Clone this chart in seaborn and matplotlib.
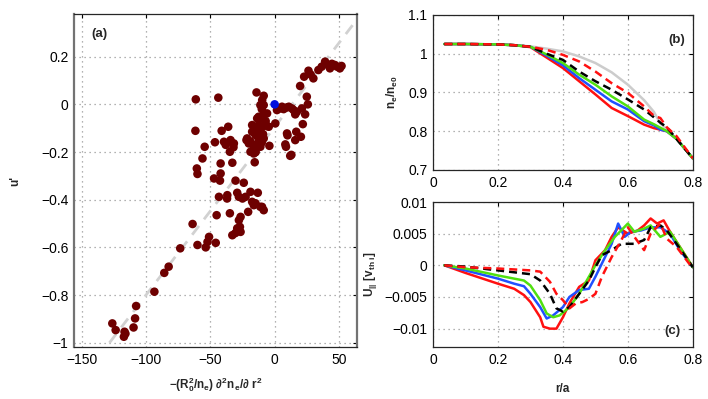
import numpy as np
import pandas as pd
import matplotlib
matplotlib.use("Agg")
import matplotlib.pyplot as plt
from matplotlib.ticker import FuncFormatter
import seaborn as sns

# ---- panel (a): scatter of u' against -(R0^2/ne) d2ne/dr2 ----
scat_x = [39.2, 43, 46.9, 50.7, 52, 34, 30.1, 26.3, 22.9, 19.8, 36.6, 41.7, 48.5, 44.5, 28,
          1.8, 4.4, 5.7, 9.5, 13.4, 14.7, 16, 17.3, 21.2, 23.7, 25.8, 25, 21.9, 7, 11,
          9.6, 10, 16.8, 20.4, 16, 8.3, 8.8, 12.1, 13, -4.1, 0.5,
          -14.1, -8.5, -9.7, -11.1, -8.5, -10, -12.4, -8.5, -5.9, -11, -13.6, -7, -5.9, -9.8,
          -12.4, -13.7, -17.5, -4.6, -11, -17.5, -14.9, -9, -8.5, -12.4, -21.4, -21.9, -20.1,
          -16.2, -16.2, -11.1, -14.9, -14.9, -18.8, -15.5, -16.2, -19, -10,
          -61.3, -43.8, -61.6, -41.2, -36.1, -54.4, -46.4, -39.4, -34.3, -31.7, -34.8, -32, -38,
          -56.1, -60.5, -60, -42, -32.9, -42, -47.1, -42.5, -30.4, -24,
          -43.3, -36.8, -37, -29.1, -27.8, -22.6, -18.8, -13.1, -25, -17.5, -14.9, -16.2, -11.1,
          -9.8, -8.5, -20.6, -34.8, -45.1, -63.8, -26.5, -27.8, -27, -29.1, -26.5, -28.5, -30.5,
          -32.9, -51, -52.2, -53.6, -45.8, -60, -73.4,
          -85.8, -82.4, -93.5, -107.7, -108.5, -109.7, -126.2, -123.6, -116.7, -117.2, -116]
scat_y = [0.179, 0.151, 0.165, 0.151, 0.161, 0.144, 0.109, 0.141, 0.116, 0.077, 0.158, 0.165, 0.158, 0.170, 0.125,
          -0.024, -0.017, -0.01, -0.013, -0.017, -0.024, -0.042, -0.031, -0.017, -0.042, 0.0, 0.032, -0.083, -0.02, -0.01,
          -0.122, -0.13, -0.115, -0.136, -0.15, -0.168, -0.178, -0.216, -0.212, -0.174, -0.08,
          0.05, 0.036, 0.018, -0.003, -0.003, -0.02, -0.052, -0.045, -0.038, -0.06, -0.059, -0.07, -0.091, -0.094,
          -0.087, -0.101, -0.087, -0.094, -0.115, -0.115, -0.129, -0.125, -0.143, -0.15, -0.143, -0.15, -0.164,
          -0.171, -0.178, -0.178, -0.199, -0.201, -0.199, -0.243, -0.206, -0.155, -0.16,
          0.021, 0.028, -0.111, -0.111, -0.094, -0.178, -0.159, -0.157, -0.15, -0.164, -0.199, -0.18, -0.17,
          -0.227, -0.269, -0.292, -0.248, -0.245, -0.29, -0.311, -0.32, -0.32, -0.329,
          -0.388, -0.381, -0.395, -0.371, -0.388, -0.388, -0.367, -0.371, -0.395, -0.409, -0.415, -0.423, -0.43,
          -0.43, -0.444, -0.451, -0.457, -0.465, -0.502, -0.472, -0.486, -0.514, -0.52, -0.535, -0.53, -0.54,
          -0.549, -0.556, -0.577, -0.6, -0.581, -0.59, -0.604,
          -0.707, -0.681, -0.786, -0.846, -0.898, -0.936, -0.919, -0.947, -0.954, -0.975, -0.962]
ref_point = (0.0, 0.0)
fit_slope, fit_intercept = 0.00705, -0.095

# ---- panel (b): density profiles n_e/n_e0 vs r/a ----
r_b = [0.035, 0.1, 0.2, 0.25, 0.3, 0.35, 0.4, 0.45, 0.5, 0.55, 0.6, 0.65, 0.68, 0.7, 0.72, 0.75, 0.8]
ne_gray = [1.025, 1.025, 1.024, 1.022, 1.019, 1.013, 1.006, 0.993, 0.976, 0.952, 0.92, 0.88, 0.85, 0.82, 0.805, 0.78, 0.73]
ne_red_dash = [1.025, 1.025, 1.024, 1.022, 1.018, 1.01, 0.997, 0.98, 0.954, 0.924, 0.899, 0.864, 0.84, 0.834, 0.81, 0.787, 0.73]
ne_black_dash = [1.025, 1.025, 1.024, 1.022, 1.018, 1.0, 0.984, 0.954, 0.929, 0.907, 0.882, 0.856, 0.836, 0.822, 0.81, 0.78, 0.73]
ne_green = [1.025, 1.025, 1.024, 1.022, 1.018, 0.998, 0.976, 0.946, 0.92, 0.89, 0.864, 0.83, 0.818, 0.809, 0.80, 0.78, 0.73]
ne_blue = [1.025, 1.025, 1.024, 1.022, 1.018, 0.995, 0.97, 0.937, 0.907, 0.877, 0.856, 0.826, 0.815, 0.804, 0.80, 0.78, 0.73]
ne_red = [1.025, 1.025, 1.024, 1.022, 1.017, 0.99, 0.963, 0.929, 0.895, 0.86, 0.839, 0.817, 0.808, 0.804, 0.80, 0.78, 0.73]

# ---- panel (c): parallel flow U_|| vs r/a ----
r_c_red_dash = [0.035, 0.1, 0.2, 0.3, 0.33, 0.36, 0.38, 0.4, 0.42, 0.44, 0.46, 0.48, 0.5, 0.52, 0.55, 0.58, 0.6, 0.62, 0.65, 0.67, 0.7, 0.72, 0.75, 0.8]
u_red_dash = [0, -0.0003, -0.0005, -0.0008, -0.001, -0.0026, -0.0045, -0.0055, -0.0068, -0.006, -0.0058, -0.0053, -0.0045, -0.0018, 0.0013, 0.004, 0.006, 0.0045, 0.0024, 0.005, 0.0066, 0.0042, 0.0029, -0.0005]
r_c_black_dash = [0.035, 0.1, 0.2, 0.3, 0.33, 0.36, 0.38, 0.4, 0.42, 0.45, 0.48, 0.5, 0.52, 0.55, 0.58, 0.62, 0.65, 0.67, 0.7, 0.72, 0.75, 0.8]
u_black_dash = [0, -0.0002, -0.0008, -0.0014, -0.0024, -0.0045, -0.0068, -0.0073, -0.0066, -0.0045, -0.0024, -0.0003, 0.0016, 0.0024, 0.0034, 0.0034, 0.004, 0.006, 0.0063, 0.0055, 0.0034, -0.0003]
r_c_green = [0.035, 0.1, 0.2, 0.25, 0.28, 0.3, 0.33, 0.35, 0.37, 0.39, 0.42, 0.45, 0.48, 0.5, 0.53, 0.56, 0.6, 0.62, 0.65, 0.67, 0.7, 0.73, 0.76, 0.8]
u_green = [0, -0.0005, -0.0016, -0.0021, -0.0024, -0.0032, -0.0055, -0.0076, -0.0082, -0.0079, -0.0066, -0.0045, -0.0018, 0.0, 0.0024, 0.0045, 0.0066, 0.0053, 0.0058, 0.0063, 0.0045, 0.0053, 0.0029, -0.0003]
r_c_blue = [0.035, 0.1, 0.2, 0.25, 0.28, 0.3, 0.33, 0.35, 0.37, 0.4, 0.42, 0.45, 0.48, 0.5, 0.52, 0.55, 0.57, 0.59, 0.61, 0.64, 0.67, 0.7, 0.73, 0.76, 0.8]
u_blue = [0, -0.0008, -0.0021, -0.0029, -0.0033, -0.0045, -0.0066, -0.0084, -0.0079, -0.0066, -0.005, -0.0039, -0.0037, -0.0018, 0.0003, 0.0034, 0.0066, 0.0045, 0.0053, 0.0055, 0.006, 0.006, 0.005, 0.0024, -0.0003]
r_c_red = [0.035, 0.1, 0.2, 0.25, 0.28, 0.3, 0.33, 0.34, 0.36, 0.38, 0.4, 0.42, 0.45, 0.48, 0.5, 0.53, 0.55, 0.57, 0.6, 0.63, 0.65, 0.67, 0.69, 0.71, 0.73, 0.76, 0.8]
u_red = [0, -0.0012, -0.0029, -0.0037, -0.0047, -0.0058, -0.0082, -0.0097, -0.01, -0.01, -0.0082, -0.006, -0.0034, -0.0024, 0.0008, 0.0024, 0.0045, 0.006, 0.005, 0.0055, 0.0063, 0.0074, 0.0066, 0.0071, 0.0053, 0.0029, -0.0003]

DASH = (0, (3.2, 2.0))


def matlab_fmt(v, pos):
    s = f"{v:g}"
    return s.replace("-", "\u2212")


def style_axes(ax):
    ax.grid(True, ls=(0, (1, 3)), lw=0.9, color="0.6")
    ax.tick_params(direction="in", length=3, labelsize=10, colors="black",
                   top=True, right=True, pad=4)
    ax.xaxis.set_major_formatter(FuncFormatter(matlab_fmt))
    ax.yaxis.set_major_formatter(FuncFormatter(matlab_fmt))
    for sp in ax.spines.values():
        sp.set_color("0.15")
        sp.set_linewidth(0.9)


sns.set_style("white")
plt.rcParams['font.family'] = ['Liberation Sans', 'DejaVu Sans']
plt.rcParams['mathtext.fontset'] = 'custom'
plt.rcParams['mathtext.rm'] = 'Liberation Sans'
plt.rcParams['mathtext.bf'] = 'Liberation Sans:bold'
plt.rcParams['mathtext.it'] = 'Liberation Sans:italic'

fig = plt.figure(figsize=(7.08, 3.99), dpi=100)
ax_a = fig.add_axes([0.1045, 0.1303, 0.3997, 0.8346])
ax_b = fig.add_axes([0.6116, 0.574, 0.367, 0.3885])
ax_c = fig.add_axes([0.6116, 0.1303, 0.367, 0.3634])

# (a)
xlim_a = (-156, 64)
fit_x = np.array(xlim_a, dtype=float)
ax_a.plot(fit_x, fit_slope * fit_x + fit_intercept, ls=(0, (4, 3)), lw=2, color="0.82", zorder=1)
df_a = pd.DataFrame({"x": scat_x, "y": scat_y})
sns.scatterplot(data=df_a, x="x", y="y", ax=ax_a, color="#6e0000", s=38,
                edgecolor="none", zorder=3)
sns.scatterplot(x=[ref_point[0]], y=[ref_point[1]], ax=ax_a, color="#0010e0", s=38,
                edgecolor="none", zorder=4)
ax_a.set_xlim(*xlim_a)
ax_a.set_ylim(-1.018, 0.379)
ax_a.set_xticks([-150, -100, -50, 0, 50])
ax_a.set_yticks([-1, -0.8, -0.6, -0.4, -0.2, 0, 0.2])
style_axes(ax_a)
ax_a.spines["left"].set_color("0.45")
ax_a.spines["left"].set_linewidth(1.6)
ax_a.spines["right"].set_color("0.45")
ax_a.spines["right"].set_linewidth(1.6)
ax_a.set_xlabel(r"$\mathbf{-(R_0^2/n_e)\ \partial^2 n_e/\partial\ r^2}$", fontsize=8.5, labelpad=6)
ax_a.set_ylabel("u'", fontsize=8.5, fontweight="bold", labelpad=14)
ax_a.text(0.06, 0.93, "(a)", transform=ax_a.transAxes, fontsize=9.5, fontweight="bold")

# (b)
b_series = [
    (ne_gray, "0.8", "-"),
    (ne_red, "#ff1010", "-"),
    (ne_blue, "#2050ff", "-"),
    (ne_green, "#50e010", "-"),
    (ne_black_dash, "black", "--"),
    (ne_red_dash, "#ff1010", "--"),
]
for vals, col, ls in b_series:
    sns.lineplot(x=r_b, y=vals, ax=ax_b, color=col, lw=1.8, sort=False, estimator=None)
    ax_b.lines[-1].set_linestyle("-" if ls == "-" else DASH)
ax_b.set_xlim(0, 0.8)
ax_b.set_ylim(0.7, 1.1)
ax_b.set_xticks([0, 0.2, 0.4, 0.6, 0.8])
ax_b.set_yticks([0.7, 0.8, 0.9, 1.0, 1.1])
style_axes(ax_b)
ax_b.set_xlabel("")
ax_b.set_ylabel(r"$\mathbf{n_e/n_{e0}}$", fontsize=8.5, labelpad=6)
ax_b.text(0.905, 0.82, "(b)", transform=ax_b.transAxes, fontsize=9.5, fontweight="bold")

# (c)
c_series = [
    (r_c_red, u_red, "#ff1010", "-"),
    (r_c_blue, u_blue, "#2050ff", "-"),
    (r_c_green, u_green, "#50e010", "-"),
    (r_c_black_dash, u_black_dash, "black", "--"),
    (r_c_red_dash, u_red_dash, "#ff1010", "--"),
]
for xs, ys, col, ls in c_series:
    sns.lineplot(x=xs, y=ys, ax=ax_c, color=col, lw=1.8, sort=False, estimator=None)
    ax_c.lines[-1].set_linestyle("-" if ls == "-" else DASH)
ax_c.set_xlim(0, 0.8)
ax_c.set_ylim(-0.0129, 0.01)
ax_c.set_xticks([0, 0.2, 0.4, 0.6, 0.8])
ax_c.set_yticks([-0.01, -0.005, 0, 0.005, 0.01])
style_axes(ax_c)
ax_c.set_xlabel("r/a", fontsize=8.5, fontweight="bold", labelpad=12)
ax_c.set_ylabel(r"$\mathbf{U_{||}\ [v_{th\ i}]}$", fontsize=8.5, labelpad=4)
ax_c.text(0.89, 0.09, "(c)", transform=ax_c.transAxes, fontsize=9.5, fontweight="bold")

fig.savefig("out.png", dpi=100)
plt.close(fig)
